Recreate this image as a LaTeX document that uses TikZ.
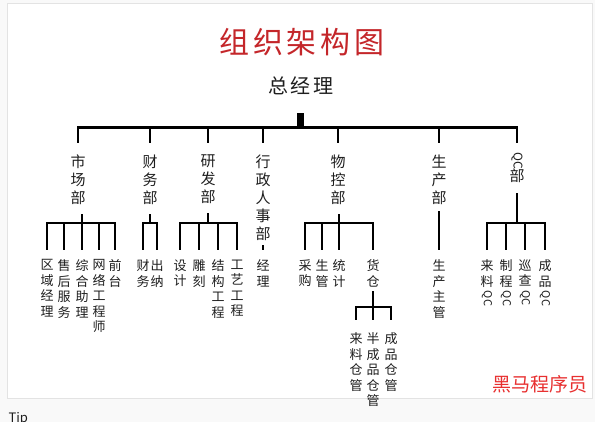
\documentclass[tikz,border=0pt]{standalone}
\usepackage{fontspec}
\setmainfont{Noto Sans CJK SC}
\newfontfamily\titlefont[LetterSpace=12]{Noto Sans CJK SC}
\definecolor{titleRed}{RGB}{196, 38, 42}
\definecolor{markRed}{RGB}{232, 48, 48}
\definecolor{textGray}{RGB}{30, 30, 30}
\newcommand{\qcv}[1][11]{\rotatebox[origin=c]{-90}{\fontsize{#1}{#1}\selectfont QC}}
\usetikzlibrary{positioning, calc}

\begin{document}
\begin{tikzpicture}[
    x=1pt, y=-1pt,
    dept/.style={anchor=north, inner sep=0pt, align=center, text=textGray, font=\fontsize{15}{18}\selectfont},
    leaf/.style={anchor=north, inner sep=0pt, align=center, text=textGray, font=\fontsize{13}{15.5}\selectfont},
    tree/.style={line width=2.7pt, black},
    drop/.style={tree, shorten >=11.5pt},
    leafdrop/.style={tree, shorten >=9.5pt},
    stem/.style={tree, shorten >=9.5pt}
  ]
  \fill[gray!5] (0,0) rectangle (595,422);
  \filldraw[fill=white, draw=gray!22] (7,3) rectangle (592,398);
  \useasboundingbox (0,0) rectangle (595,422);

  \node[text=titleRed, font=\titlefont\fontsize{30}{30}\selectfont] (title) at (302,42) {组织架构图};
  \node[text=textGray, font=\titlefont\fontsize{20}{20}\selectfont] (ceo) at (301,86) {总经理};
  \node[fill=black, inner sep=0pt, minimum width=7pt, minimum height=14pt] (stub) at (300,120) {};

  % departments
  \node[dept] (mkt) at (78,154.5) {市\\场\\部};
  \node[dept] (fin) at (150,154.5) {财\\务\\部};
  \node[dept] (rnd) at (208,154.5) {研\\发\\部};
  \node[dept] (adm) at (263,154.5) {行\\政\\人\\事\\部};
  \node[dept] (mat) at (338,154.5) {物\\控\\部};
  \node[dept] (prd) at (439,154.5) {生\\产\\部};
  \node[dept] (qc) at (517,152) {\qcv[12]\\部};

  % posts
  \node[leaf] (qy) at (47,259.5) {区\\域\\经\\理};
  \node[leaf] (sh) at (64,259.5) {售\\后\\服\\务};
  \node[leaf] (zh) at (82,259.5) {综\\合\\助\\理};
  \node[leaf] (wl) at (99,259.5) {网\\络\\工\\程\\师};
  \node[leaf] (qt) at (115,259.5) {前\\台};
  \node[leaf] (cw) at (143,259.5) {财\\务};
  \node[leaf] (cn) at (157,259.5) {出\\纳};
  \node[leaf] (sj) at (180,259.5) {设\\计};
  \node[leaf] (dk) at (199,259.5) {雕\\刻};
  \node[leaf] (jg) at (218,259.5) {结\\构\\工\\程};
  \node[leaf] (gy) at (237,259.5) {工\\艺\\工\\程};
  \node[leaf] (jl) at (263,259.5) {经\\理};
  \node[leaf] (cg) at (305,259.5) {采\\购};
  \node[leaf] (sg) at (322,259.5) {生\\管};
  \node[leaf] (tj) at (339,259.5) {统\\计};
  \node[leaf] (hc) at (373,259.5) {货\\仓};
  \node[leaf] (zg) at (439,259.5) {生\\产\\主\\管};
  \node[leaf] (llqc) at (487,259.5) {来\\料\\\qcv};
  \node[leaf] (zcqc) at (506,259.5) {制\\程\\\qcv};
  \node[leaf] (xcqc) at (525,259.5) {巡\\查\\\qcv};
  \node[leaf] (cpqc) at (545,259.5) {成\\品\\\qcv};
  \node[leaf] (llcg) at (356,332.5) {来\\料\\仓\\管};
  \node[leaf] (bcp) at (373,332.5) {半\\成\\品\\仓\\管};
  \node[leaf] (cpcg) at (391,332.5) {成\\品\\仓\\管};

  \node[text=markRed, font=\fontsize{19}{19}\selectfont] (mark) at (540,384) {黑马程序员};
  \node[anchor=base west, text=textGray, font=\fontsize{13}{13}\selectfont] (tip) at (5,422.5) {Tip};

  \coordinate (mktj) at (82,223);
  \coordinate (finj) at (150,223);
  \coordinate (rndj) at (208,223);
  \coordinate (matj) at (339,223);
  \coordinate (qcj) at (517,223);
  \coordinate (hcj) at (373,307);

  \draw[tree, shorten <=11.5pt, shorten >=9pt] (mkt.north) |- (stub.south) -| (qc.north);
  \foreach \d in {fin,rnd,adm,mat,prd}
    \draw[drop] (stub.south -| \d.north) -- (\d.north);

  \foreach \g/\a/\b in {mkt/qy/qt, fin/cw/cn, rnd/sj/gy, mat/cg/hc, qc/llqc/cpqc} {
    \draw[stem] (\g j) -- (\g j |- \g.south);
    \draw[tree, shorten <=9.5pt, shorten >=9.5pt] (\a.north) |- (\g j) -| (\b.north);
  }
  \foreach \j/\l in {mktj/sh, mktj/zh, mktj/wl, rndj/dk, rndj/jg, matj/sg, matj/tj, qcj/zcqc, qcj/xcqc}
    \draw[leafdrop] (\j -| \l.north) -- (\l.north);

  \draw[tree, shorten <=4.5pt, shorten >=9.5pt] (adm.south) -- (jl.north);
  \draw[tree, shorten <=6.5pt, shorten >=9.5pt] (prd.south) -- (zg.north);

  \draw[tree, shorten >=3.5pt] (hcj) -- (hc.south);
  \draw[tree, shorten <=12.5pt, shorten >=12.5pt] (llcg.north) |- (hcj) -| (cpcg.north);
  \draw[tree, shorten >=12.5pt] (hcj) -- (bcp.north);
\end{tikzpicture}
\end{document}
